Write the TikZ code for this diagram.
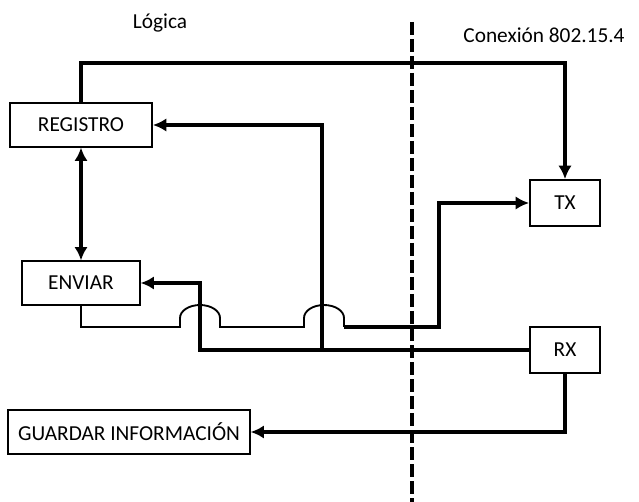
\documentclass[tikz,border=0pt]{standalone}
\usepackage{fontspec}
\setmainfont{Carlito}
\usetikzlibrary{arrows.meta}

\begin{document}
\begin{tikzpicture}[x=0.75pt, y=-0.75pt, >={Latex[length=10pt,width=10pt]},
    font=\fontsize{16}{19}\selectfont,
    block/.style={draw, line width=1.4pt, minimum height=32.5pt, inner sep=0pt},
    wire/.style={line width=2.6pt},
    thinwire/.style={line width=1.4pt}]

    \useasboundingbox (0,0) rectangle (639,502);

    % ===== LABELS =====
    \node (logica) at (160,23) {Lógica};
    \node (conexion) at (544,35) {Conexión 802.15.4};

    % ===== DIVIDER =====
    \coordinate (divtop) at (412,22);
    \coordinate (divbot) at (412,502);
    \draw[line width=3pt, dash pattern=on 9.75pt off 3pt] (divtop) -- (divbot);

    % ===== BLOCKS =====
    \node[block, minimum width=106.5pt] (reg) at (81,125) {REGISTRO};
    \node[block, minimum width=88pt] (env) at (81,283) {ENVIAR};
    \node[block, minimum width=52.5pt, minimum height=34.5pt] (tx) at (565,203) {TX};
    \node[block, minimum width=52.5pt, minimum height=35pt] (rx) at (565,350) {RX};
    \node[block, minimum width=181pt] (gua) at (129,432) {GUARDAR INFORMACIÓN};

    % ===== CONNECTORS =====
    % REGISTRO -> TX over the top
    \coordinate (topR) at (565,63);
    \draw[wire, ->] (reg.north) |- (topR) -- (tx.north);
    \draw[wire, <->] (reg.south) -- (env.north);
    % RX back to REGISTRO and ENVIAR
    \coordinate (busL) at (200,350);
    \coordinate (busR) at (322,350);
    \draw[wire, ->] (rx.west) -- (busL) |- (env.east);
    \draw[wire, ->] (busR) |- (reg.east);
    % ENVIAR -> TX, hopping over the feedback lines
    \coordinate (hopA) at (180,327);
    \draw[thinwire] (env.south) |- (hopA) -- ++(0,-9)
        arc[start angle=180, end angle=360, x radius=20, y radius=13] -- ++(0,9)
        -- (304,327) -- ++(0,-9)
        arc[start angle=180, end angle=360, x radius=20, y radius=13] -- ++(0,9)
        coordinate (hopB);
    \coordinate (kink) at (439,327);
    \draw[wire, ->] (hopB) -- (kink) |- (tx.west);
    % RX -> GUARDAR INFORMACION
    \draw[wire, ->] (rx.south) |- (gua.east);

\end{tikzpicture}
\end{document}
